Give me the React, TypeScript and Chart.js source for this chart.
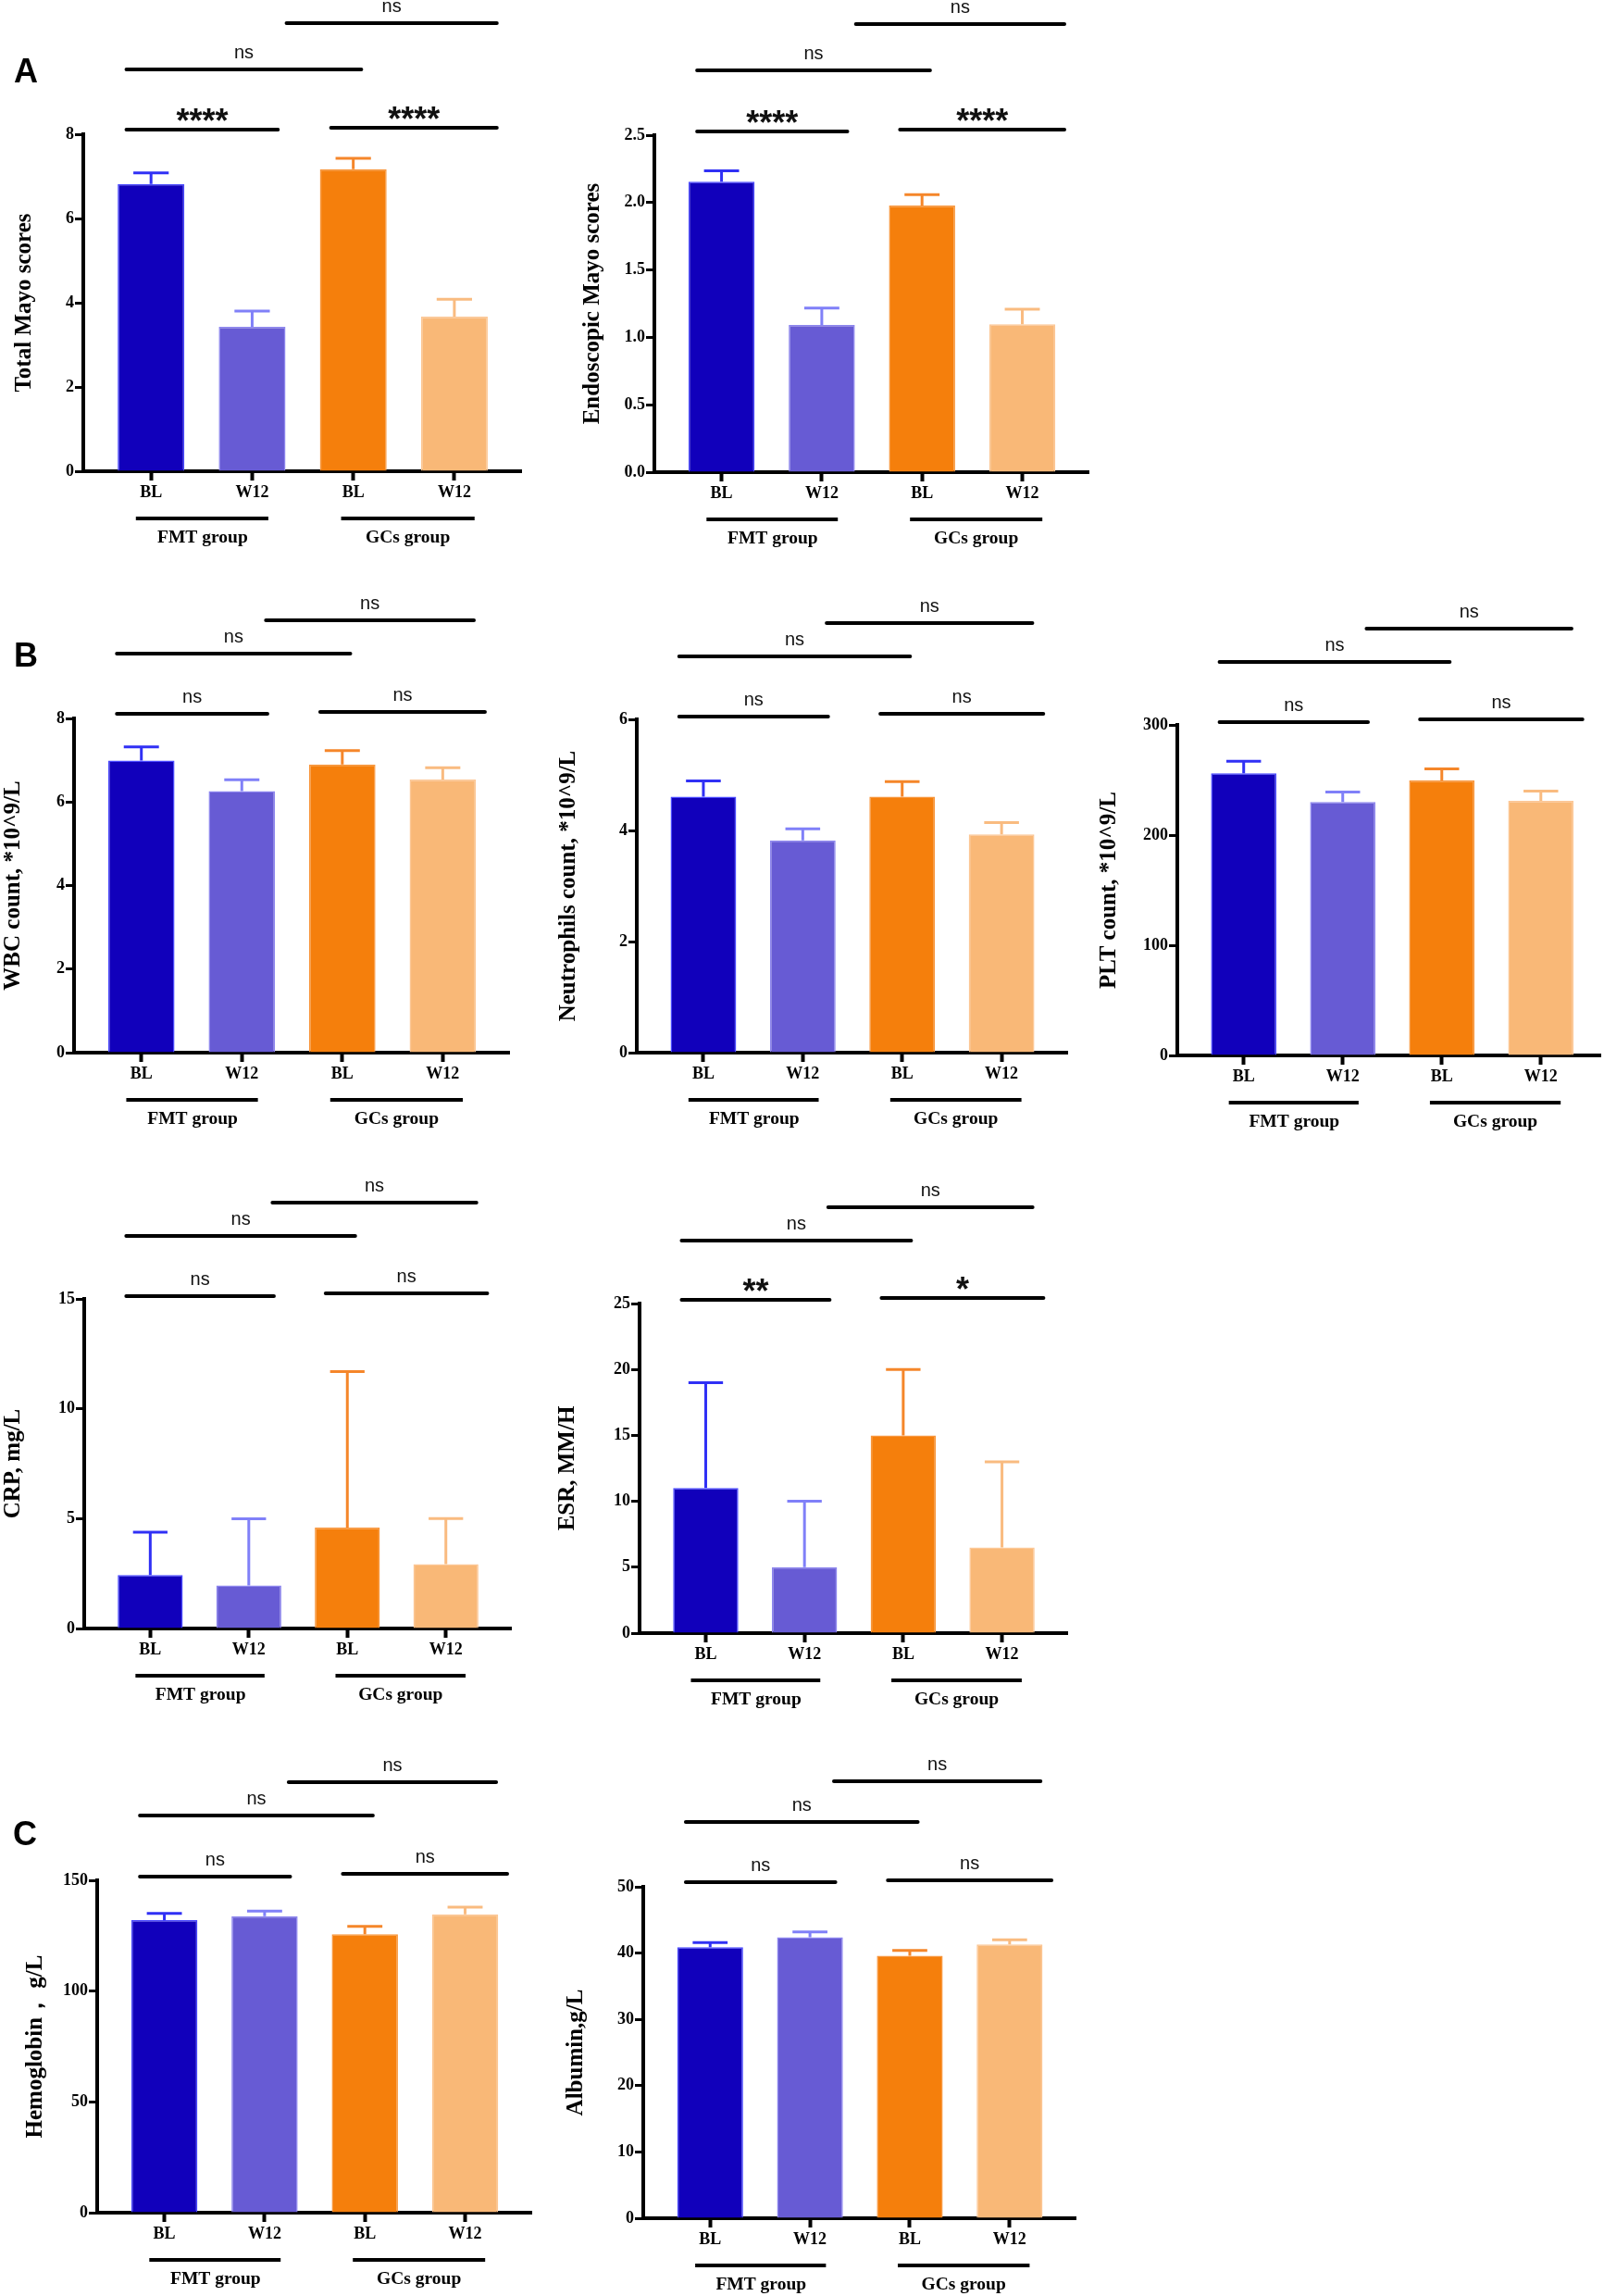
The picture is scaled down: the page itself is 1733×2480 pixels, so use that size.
import React, { useEffect, useRef } from 'react';
import { Chart, registerables } from 'chart.js';

Chart.register(...registerables);

// ---------- data ----------
const categories = ['BL', 'W12', 'BL', 'W12'];
const groupNames = ['FMT group', 'GCs group'];
const groupSpans = [[0.85, 2.16], [2.88, 4.2]];
const groupCenters = [1.51, 3.54];

// comparison brackets: BL-W12 (FMT), BL-W12 (GCs), BL-BL, W12-W12 (in category units)
const bracketSpansA = [[0.756, 2.255], [2.78, 4.42], [0.756, 3.08], [2.34, 4.42]];
const bracketSpans = [[0.756, 2.255], [2.78, 4.42], [0.756, 3.08], [2.24, 4.31]];

const sigMayo = ['****', '****', 'ns', 'ns'];
const sigNs = ['ns', 'ns', 'ns', 'ns'];
const sigEsr = ['**', '*', 'ns', 'ns'];

const totalMayoMean = [6.82, 3.43, 7.17, 3.67];
const totalMayoErr = [0.26, 0.37, 0.26, 0.41];

const endoMayoMean = [2.155, 1.092, 1.978, 1.098];
const endoMayoErr = [0.08, 0.125, 0.08, 0.11];

const wbcMean = [6.99, 6.26, 6.9, 6.54];
const wbcErr = [0.33, 0.27, 0.33, 0.28];

const neutMean = [4.61, 3.82, 4.61, 3.93];
const neutErr = [0.28, 0.21, 0.27, 0.21];

const pltMean = [256, 230, 249.5, 231];
const pltErr = [11, 9, 10.5, 9];

const crpMean = [2.43, 1.96, 4.59, 2.93];
const crpErr = [1.95, 3.03, 7.1, 2.07];

const esrMean = [11, 5, 15, 6.5];
const esrErr = [8, 5, 5, 6.5];

const hbMean = [132, 133.8, 125.7, 134.6];
const hbErr = [3.1, 2.3, 3.5, 3.3];

const albMean = [40.9, 42.4, 39.6, 41.3];
const albErr = [0.7, 0.8, 0.8, 0.7];

// ---------- styles ----------
const FILL = ['#1100bb', '#675bd4', '#f57f0c', '#f9b877'];
const EDGE = ['#4848ff', '#8c85ee', '#f8953a', '#fcc694'];
const ERRC = ['#3030f5', '#8080f8', '#f5862a', '#f9bb80'];
const SERIF = '"Liberation Serif", "Times New Roman", serif';
const SANS = '"Liberation Sans", Arial, sans-serif';

const PAD_LEFT = 100;
const PAD_TOP = 145;
const PAD_BOTTOM = 100;
const PAD_RIGHT = 6;
const X_MIN = 0.33;

type PanelData = {
  mean: number[]; err: number[]; sig: string[]; spans: number[][];
  yTitle: string; yMax: number; yStep: number; decimals: number;
};
type PanelLayout = {
  left: number; right: number; top: number; zero: number; titleX: number;
  rises: number[]; xMax: number; letter?: { text: string; x: number; y: number };
};

const panelData: PanelData[] = [
  { mean: totalMayoMean, err: totalMayoErr, sig: sigMayo, spans: bracketSpansA, yTitle: 'Total Mayo scores', yMax: 8, yStep: 2, decimals: 0 },
  { mean: endoMayoMean, err: endoMayoErr, sig: sigMayo, spans: bracketSpansA, yTitle: 'Endoscopic Mayo scores', yMax: 2.5, yStep: 0.5, decimals: 1 },
  { mean: wbcMean, err: wbcErr, sig: sigNs, spans: bracketSpans, yTitle: 'WBC count, *10^9/L', yMax: 8, yStep: 2, decimals: 0 },
  { mean: neutMean, err: neutErr, sig: sigNs, spans: bracketSpans, yTitle: 'Neutrophils count, *10^9/L', yMax: 6, yStep: 2, decimals: 0 },
  { mean: pltMean, err: pltErr, sig: sigNs, spans: bracketSpans, yTitle: 'PLT count, *10^9/L', yMax: 300, yStep: 100, decimals: 0 },
  { mean: crpMean, err: crpErr, sig: sigNs, spans: bracketSpans, yTitle: 'CRP, mg/L', yMax: 15, yStep: 5, decimals: 0 },
  { mean: esrMean, err: esrErr, sig: sigEsr, spans: bracketSpans, yTitle: 'ESR, MM/H', yMax: 25, yStep: 5, decimals: 0 },
  { mean: hbMean, err: hbErr, sig: sigNs, spans: bracketSpans, yTitle: 'Hemoglobin， g/L', yMax: 150, yStep: 50, decimals: 0 },
  { mean: albMean, err: albErr, sig: sigNs, spans: bracketSpans, yTitle: 'Albumin,g/L', yMax: 50, yStep: 10, decimals: 0 },
];

const panelLayout: PanelLayout[] = [
  { left: 90, right: 563, top: 145, zero: 509, titleX: 27, rises: [5, 7, 70, 120], xMax: 4.66, letter: { text: 'A', x: 28, y: 76 } },
  { left: 707, right: 1176, top: 146, zero: 510, titleX: 641, rises: [4, 6, 70, 120], xMax: 4.66 },
  { left: 80, right: 550, top: 776, zero: 1137, titleX: 15, rises: [5, 7, 70, 106], xMax: 4.66, letter: { text: 'B', x: 28, y: 707 } },
  { left: 688, right: 1153, top: 777, zero: 1137, titleX: 615, rises: [3, 6, 68, 104], xMax: 4.66 },
  { left: 1272, right: 1729, top: 783, zero: 1140, titleX: 1199, rises: [3, 6, 68, 104], xMax: 4.6 },
  { left: 91, right: 552, top: 1403, zero: 1759, titleX: 15, rises: [3, 6, 68, 104], xMax: 4.66 },
  { left: 691, right: 1153, top: 1408, zero: 1764, titleX: 614, rises: [4, 6, 68, 104], xMax: 4.66 },
  { left: 105, right: 574, top: 2031, zero: 2390, titleX: 39, rises: [4, 7, 70, 106], xMax: 4.66, letter: { text: 'C', x: 27, y: 1980 } },
  { left: 695, right: 1162, top: 2038, zero: 2396, titleX: 623, rises: [5, 7, 70, 114], xMax: 4.66 },
];

function textCentered(ctx: CanvasRenderingContext2D, text: string, x: number, yc: number, font: string) {
  ctx.font = font;
  const m = ctx.measureText(text);
  const asc = m.actualBoundingBoxAscent;
  const desc = m.actualBoundingBoxDescent;
  ctx.textAlign = 'center';
  ctx.textBaseline = 'alphabetic';
  ctx.fillText(text, x, yc + (asc - desc) / 2);
}

function Panel({ d, l }: { d: PanelData; l: PanelLayout }) {
  const ref = useRef<HTMLCanvasElement | null>(null);
  const canvasLeft = Math.round(l.left - PAD_LEFT);
  const canvasTop = Math.round(l.top - PAD_TOP);
  const width = Math.round(l.right + PAD_RIGHT - canvasLeft);
  const height = Math.round(l.zero + PAD_BOTTOM - canvasTop);

  useEffect(() => {
    if (!ref.current) return;
    const annot = {
      id: 'annot',
      afterDatasetsDraw(chart: any) {
        const { ctx, scales } = chart;
        const y = scales.y;
        const meta = chart.getDatasetMeta(0);
        ctx.save();
        meta.data.forEach((bar: any, i: number) => {
          const cx = bar.x;
          const yTop = bar.y;
          const yErr = y.getPixelForValue(d.mean[i] + d.err[i]);
          const cap = bar.width * 0.53;
          ctx.strokeStyle = ERRC[i];
          ctx.lineWidth = 3;
          ctx.lineCap = 'butt';
          ctx.beginPath();
          ctx.moveTo(cx, yTop);
          ctx.lineTo(cx, yErr);
          ctx.moveTo(cx - cap / 2, yErr);
          ctx.lineTo(cx + cap / 2, yErr);
          ctx.stroke();
        });
        ctx.restore();
      },
      afterDraw(chart: any) {
        const { ctx, chartArea, scales } = chart;
        const x = scales.x;
        ctx.save();
        ctx.strokeStyle = '#000';
        ctx.fillStyle = '#000';
        ctx.lineWidth = 4;
        ctx.lineCap = 'round';
        // significance brackets
        d.spans.forEach((span, k) => {
          const yl = chartArea.top - l.rises[k];
          const x0 = x.getPixelForValue(span[0]);
          const x1 = x.getPixelForValue(span[1]);
          ctx.beginPath();
          ctx.moveTo(x0, yl);
          ctx.lineTo(x1, yl);
          ctx.stroke();
          const label = d.sig[k];
          const isNs = label === 'ns';
          const font = isNs ? `20px ${SANS}` : `bold 36px ${SANS}`;
          ctx.fillStyle = '#111';
          textCentered(ctx, label, (x0 + x1) / 2, yl - (isNs ? 18 : 16), font);
        });
        // group underlines and labels
        const gy = chartArea.bottom + 51;
        groupSpans.forEach((span, g) => {
          const x0 = x.getPixelForValue(span[0]);
          const x1 = x.getPixelForValue(span[1]);
          ctx.lineCap = 'butt';
          ctx.beginPath();
          ctx.moveTo(x0, gy);
          ctx.lineTo(x1, gy);
          ctx.stroke();
          ctx.fillStyle = '#000';
          textCentered(ctx, groupNames[g], x.getPixelForValue(groupCenters[g]), chartArea.bottom + 72, `bold 19.5px ${SERIF}`);
        });
        if (l.letter) {
          ctx.fillStyle = '#000';
          textCentered(ctx, l.letter.text, l.letter.x - canvasLeft, l.letter.y - canvasTop, `bold 36px ${SANS}`);
        }
        ctx.restore();
      },
    };

    const tickFont = { family: SERIF, size: 18, weight: 'bold' as const };
    const chart = new Chart(ref.current, {
      type: 'bar',
      data: {
        datasets: [
          {
            data: d.mean.map((v, i) => ({ x: i + 1, y: v })),
            backgroundColor: FILL,
            borderColor: EDGE,
            borderWidth: 1.5,
            borderSkipped: 'start',
            categoryPercentage: 1,
            barPercentage: 0.66,
          } as any,
        ],
      },
      options: {
        responsive: false,
        animation: false,
        devicePixelRatio: 1,
        events: [],
        layout: { padding: { left: 0, top: PAD_TOP, right: PAD_RIGHT, bottom: 0 } },
        plugins: { legend: { display: false }, tooltip: { enabled: false } },
        scales: {
          x: {
            type: 'linear',
            bounds: 'data',
            offset: false,
            min: X_MIN,
            max: l.xMax,
            z: 1,
            afterBuildTicks: (s: any) => {
              s.ticks = categories.map((_, i) => ({ value: i + 1 }));
            },
            afterFit: (s: any) => {
              s.height = PAD_BOTTOM;
            },
            ticks: {
              callback: (_v: any, i: number) => categories[i],
              font: tickFont,
              color: '#000',
              padding: 3,
              maxRotation: 0,
              autoSkip: false,
            },
            grid: { display: true, offset: false, drawOnChartArea: false, drawTicks: true, tickLength: 10, tickWidth: 4, tickColor: '#000' },
            border: { display: true, width: 4, color: '#000' },
          },
          y: {
            type: 'linear',
            min: 0,
            max: d.yMax,
            z: 1,
            afterFit: (s: any) => {
              s.width = l.left - canvasLeft;
            },
            ticks: {
              stepSize: d.yStep,
              callback: (v: any) => Number(v).toFixed(d.decimals),
              font: tickFont,
              color: '#000',
              padding: 1,
            },
            grid: { display: true, drawOnChartArea: false, drawTicks: true, tickLength: 9, tickWidth: 3, tickColor: '#000' },
            border: { display: true, width: 4, color: '#000' },
            title: {
              display: true,
              text: d.yTitle,
              color: '#000',
              font: { family: SERIF, size: 25, weight: 'bold', lineHeight: 1.2 },
              padding: { top: l.titleX - canvasLeft - 15, bottom: 0 },
            },
          },
        },
      } as any,
      plugins: [annot],
    });
    return () => chart.destroy();
  }, []);

  return (
    <canvas
      ref={ref}
      width={width}
      height={height}
      style={{ position: 'absolute', left: canvasLeft, top: canvasTop, width, height }}
    />
  );
}

export default function App() {
  return (
    <div style={{ position: 'relative', width: 1733, height: 2480, overflow: 'hidden', background: '#fff' }}>
      <style>{'html,body{margin:0;padding:0;overflow:hidden;background:#fff;}'}</style>
      {panelData.map((d, i) => (
        <Panel key={i} d={d} l={panelLayout[i]} />
      ))}
    </div>
  );
}
